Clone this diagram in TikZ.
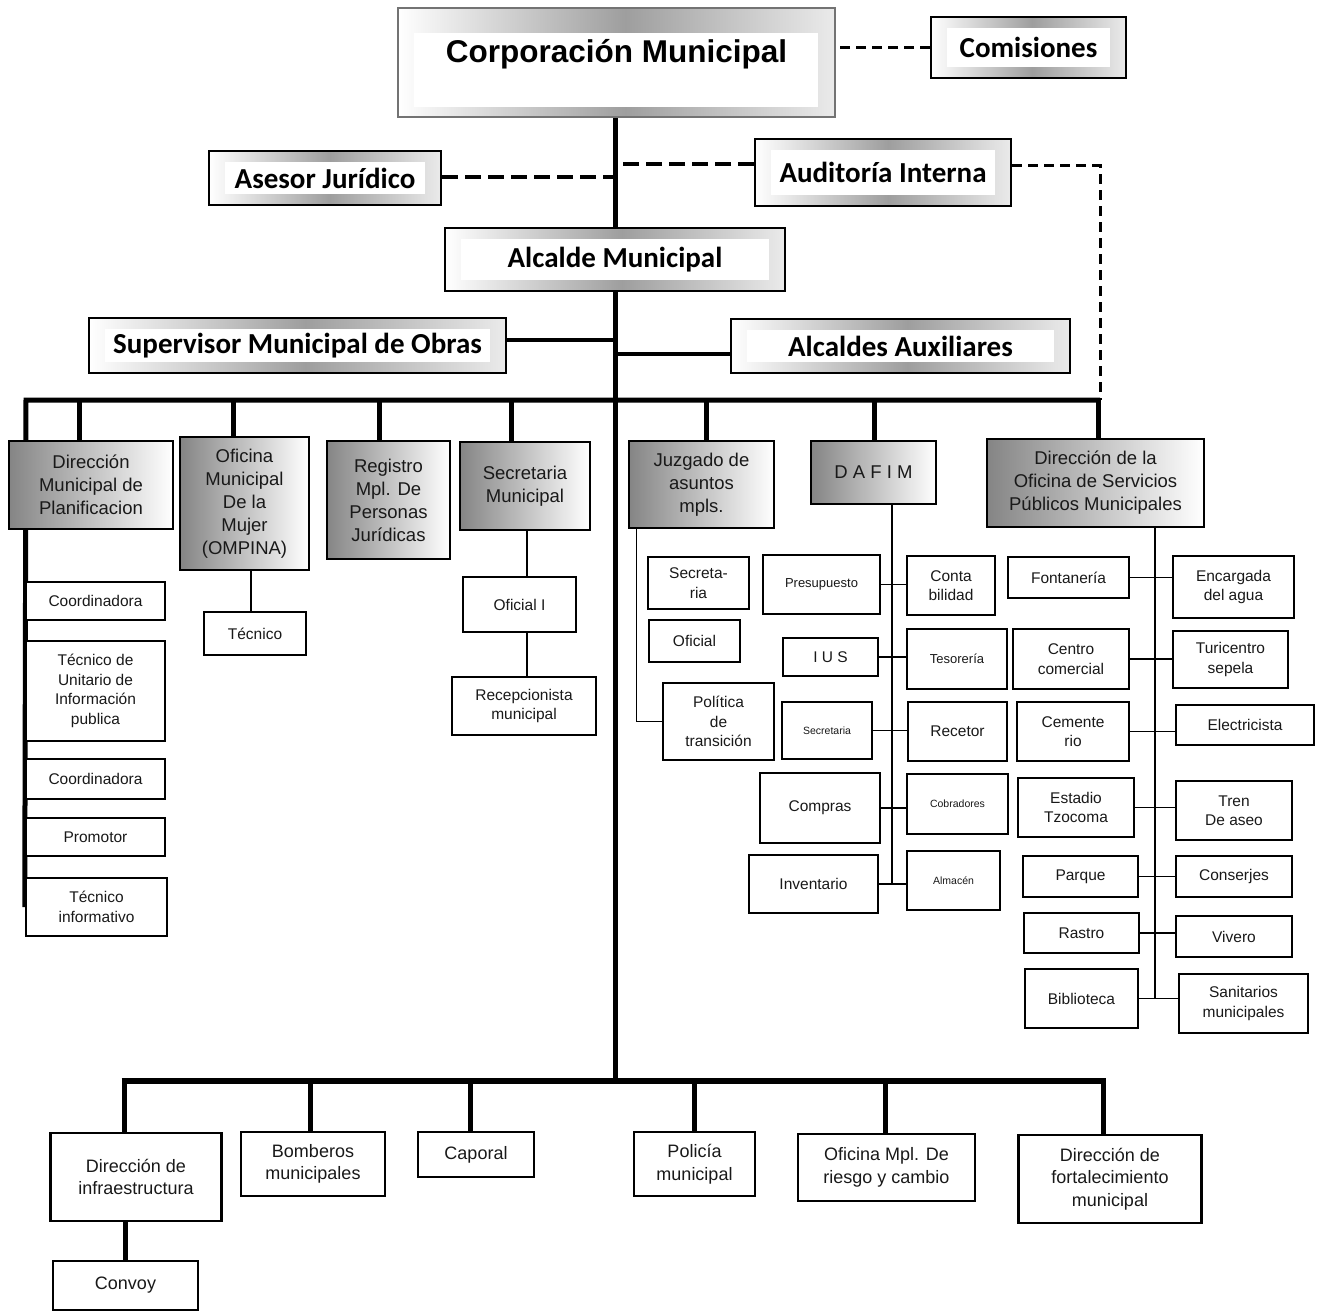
\documentclass[tikz,border=0pt]{standalone}
\usepackage{fontspec}
\setmainfont{Liberation Sans}
\newfontfamily\calibri{Carlito}
\usepackage{tikz}
\usetikzlibrary{backgrounds}

% grey "metal" frame of the top boxes
\pgfdeclarehorizontalshading{chrome}{100bp}{color(0bp)=(white); color(25bp)=(white);
  color(51bp)=(black!38); color(75bp)=(black!8); color(100bp)=(black!8)}

\tikzset{ % styles of the boxes and lines
  wh/.style 2 args={minimum width=#1, minimum height=#2},
  hdrbox/.style={draw=black, line width=2pt, shade, shading=chrome, inner sep=0pt,
    font=\calibri\bfseries\fontsize{29}{33}\selectfont,
    path picture={\fill[white] ([shift={(16pt,11pt)}]path picture bounding box.south west)
      rectangle ([shift={(-16pt,-11pt)}]path picture bounding box.north east);}},
  areabox/.style={draw=black, line width=2.5pt, left color=black!48, right color=white,
    text=black!90, align=center, inner sep=1pt, font=\fontsize{18.5}{23}\selectfont},
  unitbox/.style={draw=black, line width=2.5pt, fill=white, text=black!90,
    align=center, inner sep=1pt, font=\fontsize{15.5}{19.5}\selectfont},
  smallprint/.style={font=\fontsize{13}{16}\selectfont},
  tinyprint/.style={font=\fontsize{10.5}{13}\selectfont},
  lowbox/.style={unitbox, font=\fontsize{18}{22.5}\selectfont},
  trunk/.style={line width=5pt},
  twig/.style={line width=1.2pt},
  dashthick/.style={line width=4pt, dash pattern=on 16pt off 7pt},
  dashthin/.style={line width=3pt, dash pattern=on 10pt off 6pt},
}

\begin{document}
\begin{tikzpicture}[x=1pt, y=-1pt] % pixel grid, y going down
\useasboundingbox (0,0) rectangle (1320,1311);

% top of the chart
\node[hdrbox, wh={437}{109}, draw=black!55, font=\bfseries\fontsize{31.5}{36}\selectfont,
  text height=24pt, text depth=24pt,
  path picture={\fill[white] ([shift={(16pt,10pt)}]path picture bounding box.south west)
    rectangle ([shift={(-17pt,-25pt)}]path picture bounding box.north east);}]
  (corp) at (616.5,62.5) {Corporación Municipal};
\node[hdrbox, wh={195}{61}] (comis) at (1028.5,47.5) {Comisiones};
\node[hdrbox, wh={232}{54}] (asesor) at (325,178) {Asesor Jurídico};
\node[hdrbox, wh={256}{67}] (audit) at (883,172.5) {Auditoría Interna};
\node[hdrbox, wh={340}{63}] (alcalde) at (615,259.5) {Alcalde Municipal};
\node[hdrbox, wh={417}{55}] (superv) at (297.5,345.5) {Supervisor Municipal de Obras};
\node[hdrbox, wh={339}{54}] (auxil) at (900.5,346) {Alcaldes Auxiliares};

\coordinate (busL) at (26,400);
\coordinate (busR) at (1100,400);
\coordinate (lowL) at (121.5,1081);
\coordinate (lowR) at (1105.5,1081);

% second level
\node[areabox, wh={164}{88}] (planif) at (91,485) {Dirección\\Municipal de\\Planificacion};
\node[areabox, wh={129}{133}] (ompina) at (244.5,503.5) {Oficina\\Municipal\\De la\\Mujer\\(OMPINA)};
\node[areabox, wh={123}{118}] (regis) at (388.5,500) {Registro\\Mpl. De\\Personas\\Jurídicas};
\node[areabox, wh={130}{88}] (secret) at (525,486) {Secretaria\\Municipal};
\node[areabox, wh={145}{87}] (juzg) at (701.5,484.5) {Juzgado de\\asuntos\\mpls.};
\node[areabox, wh={125}{63}] (dafim) at (873.5,472.5) {D A F I M};
\node[areabox, wh={217}{88}] (serv) at (1095.5,483) {Dirección de la\\Oficina de Servicios\\Públicos Municipales};

% planificacion
\node[unitbox, wh={139}{38}] (coord1) at (95.5,601) {Coordinadora};
\node[unitbox, wh={139}{100}] (tecuni) at (95.5,691) {Técnico de\\Unitario de\\Información\\publica};
\node[unitbox, wh={139}{40}] (coord2) at (95.5,779) {Coordinadora};
\node[unitbox, wh={139}{38}] (promo) at (95.5,837) {Promotor};
\node[unitbox, wh={141}{58}] (tinf) at (96.5,907) {Técnico\\informativo};

\node[unitbox, wh={102}{43}] (tecn) at (255,633.5) {Técnico};
\node[unitbox, wh={113}{55}] (ofi1) at (519.5,604.5) {Oficial I};
\node[unitbox, wh={144}{58}] (recep) at (524,706) {Recepcionista\\municipal};

% juzgado
\node[unitbox, wh={101}{52}] (secjz) at (698.5,583) {Secreta-\\ria};
\node[unitbox, wh={91}{42}] (oficl) at (694.5,641) {Oficial};
\node[unitbox, wh={111}{77}] (polit) at (718.5,721.5) {Política\\de\\transición};

% dafim
\node[unitbox, smallprint, wh={117}{59}] (presu) at (821.5,584.5) {Presupuesto};
\node[unitbox, wh={95}{38}] (ius) at (830.5,657) {I U S};
\node[unitbox, tinyprint, wh={90}{57}] (secdf) at (827,730.5) {Secretaria};
\node[unitbox, wh={120}{70}] (compr) at (820,808) {Compras};
\node[unitbox, wh={129}{58}] (invent) at (813.5,884) {Inventario};
\node[unitbox, wh={88}{59}] (conta) at (951,585.5) {Conta\\bilidad};
\node[unitbox, smallprint, wh={100}{60}] (tesor) at (957,659) {Tesorería};
\node[unitbox, wh={99}{59}] (recet) at (957.5,731.5) {Recetor};
\node[unitbox, tinyprint, wh={101}{60}] (cobra) at (957.5,804) {Cobradores};
\node[unitbox, tinyprint, wh={93}{59}] (almac) at (953.5,880.5) {Almacén};

% servicios publicos
\node[unitbox, wh={121}{41}] (fonta) at (1068.5,577.5) {Fontanería};
\node[unitbox, wh={116}{60}] (centro) at (1071,659) {Centro\\comercial};
\node[unitbox, wh={112}{59}] (cement) at (1073,731.5) {Cemente\\rio};
\node[unitbox, wh={116}{59}] (estad) at (1076,807.5) {Estadio\\Tzocoma};
\node[unitbox, wh={115}{41}] (parque) at (1080.5,876.5) {Parque};
\node[unitbox, wh={115}{40}] (rastro) at (1081.5,933) {Rastro};
\node[unitbox, wh={113}{59}] (bibl) at (1081.5,998.5) {Biblioteca};
\node[unitbox, wh={121}{62}] (encarg) at (1233.5,587) {Encargada\\del agua};
\node[unitbox, wh={115}{57}] (turic) at (1230.5,659.5) {Turicentro\\sepela};
\node[unitbox, wh={138}{40}] (elect) at (1245,725) {Electricista};
\node[unitbox, wh={116}{59}] (tren) at (1234,810.5) {Tren\\De aseo};
\node[unitbox, wh={116}{41}] (consj) at (1234,876.5) {Conserjes};
\node[unitbox, wh={116}{41}] (viver) at (1234,936.5) {Vivero};
\node[unitbox, wh={129}{59}] (sanit) at (1243.5,1003.5) {Sanitarios\\municipales};

% bottom row
\node[lowbox, wh={171}{88}] (infra) at (136,1177) {Dirección de\\infraestructura};
\node[lowbox, wh={144}{64}] (bomb) at (313,1164) {Bomberos\\municipales};
\node[lowbox, wh={116}{45}] (capor) at (476,1154.5) {Caporal};
\node[lowbox, wh={121}{64}] (polic) at (694.5,1164) {Policía\\municipal};
\node[lowbox, wh={177}{67}] (riesgo) at (886.5,1167.5) {Oficina Mpl. De\\riesgo y cambio};
\node[lowbox, wh={183}{88}] (fortal) at (1110,1179) {Dirección de\\fortalecimiento\\municipal};
\node[lowbox, wh={145}{49}] (convoy) at (125.5,1285.5) {Convoy};

\begin{scope}[on background layer]
  % main line
  \draw[trunk] (alcalde.north |- corp.south) -- (alcalde.north);
  \draw[trunk] (alcalde.south) -- (alcalde.south |- lowL);
  \draw[dashthin] (comis.west) -- (comis.west -| corp.east);
  \draw[dashthick] ([yshift=1]asesor.east) -- ([yshift=1]asesor.east -| alcalde.north);
  \draw[dashthick] ([yshift=8.5]audit.west) -- ([yshift=8.5]audit.west -| alcalde.north);
  \draw[dashthin] ([yshift=6.5]audit.east) -| (busR);
  \draw[line width=4pt] ([yshift=5.5]superv.east) -- ([yshift=5.5]superv.east -| alcalde.south);
  \draw[line width=4pt] ([yshift=-8]auxil.west) -- ([yshift=-8]auxil.west -| alcalde.south);

  \draw[trunk] (busR) -- (busL) -- (tinf.west);
  \foreach \n/\s in {planif/-12, ompina/-11.5, regis/-9.5, secret/-14, juzg/4.5, dafim/0.5, serv/2.5}
    \draw[trunk] ([xshift=\s]\n.north) -- ([xshift=\s]\n.north |- busL);

  \draw[twig] ([xshift=-4]tecn.north) -- ([xshift=-4]tecn.north |- ompina.south);
  \draw[twig] ([xshift=2]secret.south) -- ([xshift=2]secret.south |- recep.north);
  \draw[twig] ([xshift=9]juzg.south west) |- (polit.west);

  \draw[twig] ([xshift=18.5]dafim.south) -- ([xshift=18.5]dafim.south |- invent.east);
  \foreach \a/\b in {presu/conta, ius/tesor, secdf/recet, compr/cobra, invent/almac}
    \draw[twig] (\a.east) -- (\a.east -| \b.west);

  \draw[twig] ([xshift=59.5]serv.south) -- ([xshift=59.5]serv.south |- bibl.east);
  \foreach \a/\b in {fonta/encarg, centro/turic, cement/elect, estad/tren, parque/consj, rastro/viver, bibl/sanit}
    \draw[twig] (\a.east) -- (\a.east -| \b.west);

  % lower bus
  \draw[trunk, line width=6pt] (lowL) -- (lowR);
  \foreach \n/\s in {infra/-12, bomb/-3, capor/-6, polic/0, riesgo/-1.5, fortal/-7}
    \draw[trunk] ([xshift=\s]\n.north) -- ([xshift=\s]\n.north |- lowL);
  \draw[trunk] (convoy.north) -- (convoy.north |- infra.south);
\end{scope}

\end{tikzpicture}
\end{document}
